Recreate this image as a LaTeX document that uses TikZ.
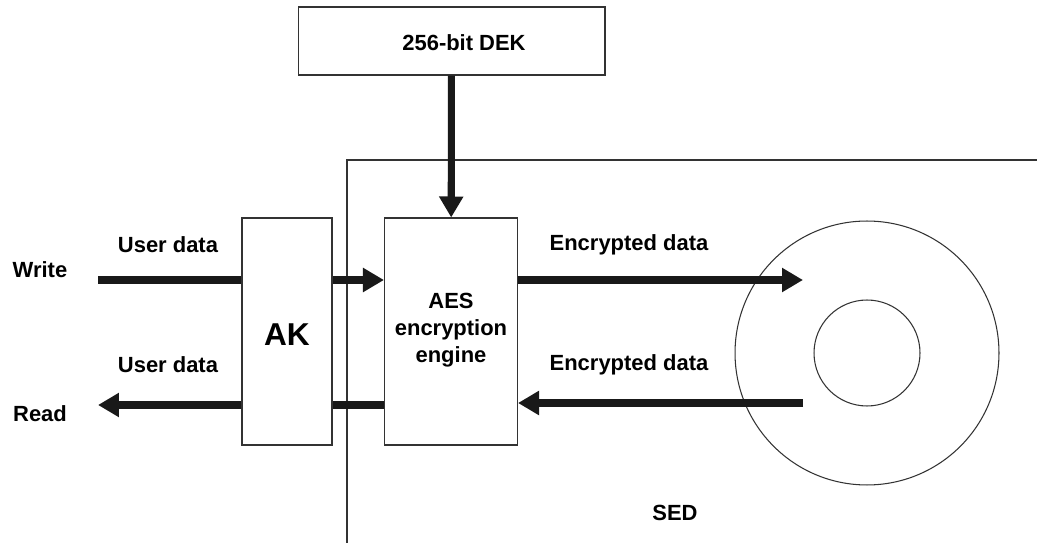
\documentclass[tikz,border=0pt]{standalone}
\usepackage{fontspec}
\setmainfont{Liberation Sans}
\usetikzlibrary{arrows.meta}

\tikzset{
	blockbox/.style={shape=rectangle,draw=black!80,line width=0.6pt,inner sep=0pt},
	diskring/.style={shape=circle,draw=black!80,line width=0.6pt,inner sep=0pt},
	lbl/.style={font=\bfseries\fontsize{12.5}{15.5}\selectfont,inner sep=0pt},
	flow/.style={line width=4pt,draw=black!90},
	flowarrow/.style={flow,-{Triangle[length=0.42cm,width=0.46cm]}}
}

\begin{document}
\begin{tikzpicture}[x=0.02cm,y=-0.02cm]
	
	\useasboundingbox (0,0) rectangle (1037,543);
	
	% boxes
	\node[blockbox,minimum width=6.14cm,minimum height=1.36cm] (dek) at (451.5, 41)  {};
	\node[lbl] (dektext) at (464, 43) {256-bit DEK};
	\node[blockbox,minimum width=1.8cm,minimum height=4.54cm]  (ak)  at (287, 331.5) {};
	\node[blockbox,minimum width=2.66cm,minimum height=4.54cm] (aes) at (451, 331.5) {};
	\node[lbl,align=center] (aestext) at (451, 330) {AES\\encryption\\engine};
	\node[font=\bfseries\fontsize{18}{20}\selectfont,inner sep=0pt] (aktext) at (287, 335) {AK};
	
	% disk
	\node[diskring,minimum size=5.28cm] (disk) at (867, 353) {};
	\node[diskring,minimum size=2.12cm] (hub)  at (867, 353) {};
	
	% SED boundary
	\draw[black!80,line width=0.6pt] (1037,160) -- (347,160) -- (347,543);
	
	% labels
	\node[lbl] (write) at (40, 270)  {Write};
	\node[lbl] (read)  at (40, 414)  {Read};
	\node[lbl] (udw)   at (168, 245) {User data};
	\node[lbl] (udr)   at (168, 365) {User data};
	\node[lbl] (edw)   at (629, 245) {Encrypted data};
	\node[lbl] (edr)   at (629, 365) {Encrypted data};
	\node[lbl] (sed)   at (675, 513) {SED};
	
	% free ends
	\coordinate (win)  at (98, 280);
	\coordinate (rout) at (98, 405);
	\coordinate (dwr)  at (803, 280);
	\coordinate (drd)  at (803, 403);
	
	% data paths
	\path (dek) edge[flowarrow] (aes);
	\path (win) edge[flow] (win -| ak.west);
	\path (win -| ak.east) edge[flowarrow] (win -| aes.west);
	\path (rout -| aes.west) edge[flow] (rout -| ak.east);
	\path (rout -| ak.west) edge[flowarrow] (rout);
	\path (dwr -| aes.east) edge[flowarrow] (dwr);
	\path (drd) edge[flowarrow] (drd -| aes.east);
	
\end{tikzpicture}
\end{document}
